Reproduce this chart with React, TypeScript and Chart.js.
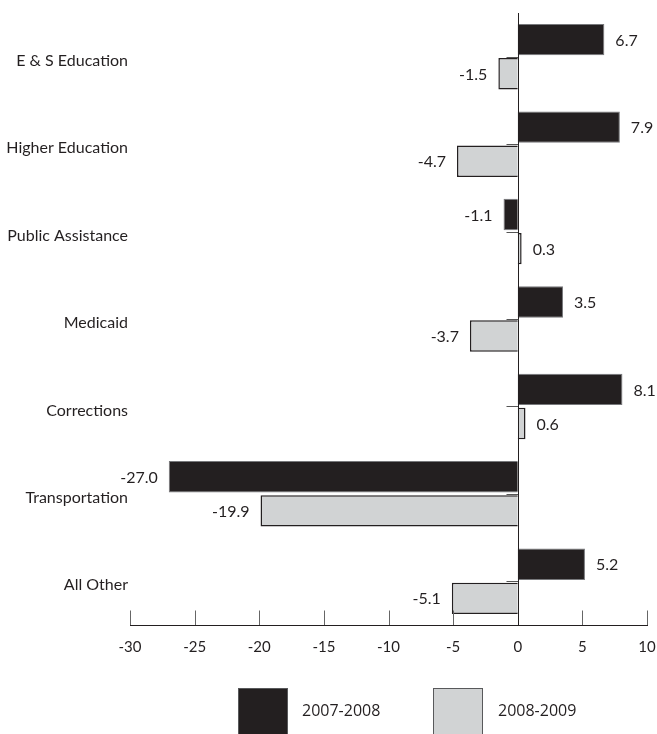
import React, { useEffect, useRef } from "react";
import { Chart, registerables } from "chart.js";

Chart.register(...registerables);

const categories = [
  "E & S Education",
  "Higher Education",
  "Public Assistance",
  "Medicaid",
  "Corrections",
  "Transportation",
  "All Other",
];
const series2007 = [6.7, 7.9, -1.1, 3.5, 8.1, -27.0, 5.2];
const series2008 = [-1.5, -4.7, 0.3, -3.7, 0.6, -19.9, -5.1];
const seriesNames = ["2007-2008", "2008-2009"];
const xMin = -30;
const xMax = 10;
const xStep = 5;

const DARK = "#231f20";
const LIGHT = "#d1d3d4";
const FONT = "Lato, 'Open Sans', sans-serif";

const overlayPlugin = {
  id: "overlay",
  afterDatasetsDraw(chart: any) {
    const { ctx, chartArea } = chart;
    const xs = chart.scales.x;
    const ys = chart.scales.y;
    const x0 = Math.round(xs.getPixelForValue(0)) + 0.5;
    const bottom = Math.round(chartArea.bottom) + 0.5;
    ctx.save();
    // value labels
    ctx.font = `16px ${FONT}`;
    ctx.fillStyle = DARK;
    ctx.textBaseline = "middle";
    chart.data.datasets.forEach((ds: any, di: number) => {
      const meta = chart.getDatasetMeta(di);
      meta.data.forEach((el: any, i: number) => {
        const v = ds.data[i];
        const txt = v.toFixed(1);
        if (v >= 0) {
          ctx.textAlign = "left";
          ctx.fillText(txt, el.x + 11, el.y + 1);
        } else {
          ctx.textAlign = "right";
          ctx.fillText(txt, el.x - 11, el.y + 1);
        }
      });
    });
    // category ticks at zero line
    ctx.strokeStyle = "#555";
    ctx.lineWidth = 1;
    categories.forEach((_, i) => {
      const y = Math.round(ys.getPixelForValue(i)) + 0.5;
      ctx.beginPath();
      ctx.moveTo(x0 - 12, y);
      ctx.lineTo(x0, y);
      ctx.stroke();
    });
    // x tick marks (pointing up)
    ctx.strokeStyle = "#666";
    for (let v = xMin; v <= xMax; v += xStep) {
      const x = Math.round(xs.getPixelForValue(v)) + 0.5;
      ctx.beginPath();
      ctx.moveTo(x, bottom - 15);
      ctx.lineTo(x, bottom);
      ctx.stroke();
    }
    // axis line
    ctx.strokeStyle = DARK;
    ctx.beginPath();
    ctx.moveTo(Math.round(chartArea.left), bottom);
    ctx.lineTo(Math.round(chartArea.right) + 1, bottom);
    ctx.stroke();
    // zero line
    ctx.beginPath();
    ctx.moveTo(x0, Math.round(chartArea.top));
    ctx.lineTo(x0, bottom);
    ctx.stroke();
    ctx.restore();
  },
};

export default function App() {
  const ref = useRef<HTMLCanvasElement | null>(null);
  useEffect(() => {
    if (!ref.current) return;
    const chart = new Chart(ref.current, {
      type: "bar",
      data: {
        labels: categories,
        datasets: [
          {
            label: seriesNames[0],
            data: series2007,
            backgroundColor: DARK,
            borderColor: "#77787b",
            borderWidth: 1,
            categoryPercentage: 0.78,
            barPercentage: 0.92,
          },
          {
            label: seriesNames[1],
            data: series2008,
            backgroundColor: LIGHT,
            borderColor: DARK,
            borderWidth: 1.5,
            categoryPercentage: 0.78,
            barPercentage: 0.92,
          },
        ],
      },
      options: {
        indexAxis: "y",
        responsive: false,
        animation: false,
        devicePixelRatio: 1,
        layout: { padding: { top: 13, right: 10, left: 0, bottom: 0 } },
        plugins: { legend: { display: false }, tooltip: { enabled: false } },
        scales: {
          x: {
            type: "linear",
            min: xMin,
            max: xMax,
            ticks: {
              stepSize: xStep,
              color: DARK,
              font: { family: FONT, size: 15 },
              padding: 13,
            },
            grid: { display: false, drawTicks: false },
            border: { display: false },
            afterFit: (s: any) => {
              s.height = 109;
              s.paddingLeft = 0;
              s.paddingRight = 0;
            },
          },
          y: {
            type: "category",
            ticks: {
              color: DARK,
              font: { family: FONT, size: 16 },
              padding: 2,
              labelOffset: 4,
            },
            grid: { display: false, drawTicks: false },
            border: { display: false },
            afterFit: (s: any) => {
              s.width = 130;
              s.paddingTop = 0;
              s.paddingBottom = 0;
            },
          },
        },
      },
      plugins: [overlayPlugin],
    } as any);
    return () => chart.destroy();
  }, []);

  const legendText: React.CSSProperties = {
    position: "absolute",
    top: 699,
    fontFamily: "'Open Sans', sans-serif",
    fontSize: 16,
    color: DARK,
    lineHeight: "22px",
  };
  return (
    <div style={{ position: "fixed", left: 0, top: 0, width: 657, height: 734, background: "#fff", overflow: "hidden" }}>
      <canvas ref={ref} width={657} height={734} style={{ position: "absolute", left: 0, top: 0 }} />
      <div style={{ position: "absolute", left: 238, top: 688, width: 48, height: 50, background: DARK, border: "1px solid #58595b" }} />
      <div style={{ ...legendText, left: 302 }}>{seriesNames[0]}</div>
      <div style={{ position: "absolute", left: 433, top: 688, width: 48, height: 50, background: LIGHT, border: "1px solid #58595b" }} />
      <div style={{ ...legendText, left: 498 }}>{seriesNames[1]}</div>
    </div>
  );
}
